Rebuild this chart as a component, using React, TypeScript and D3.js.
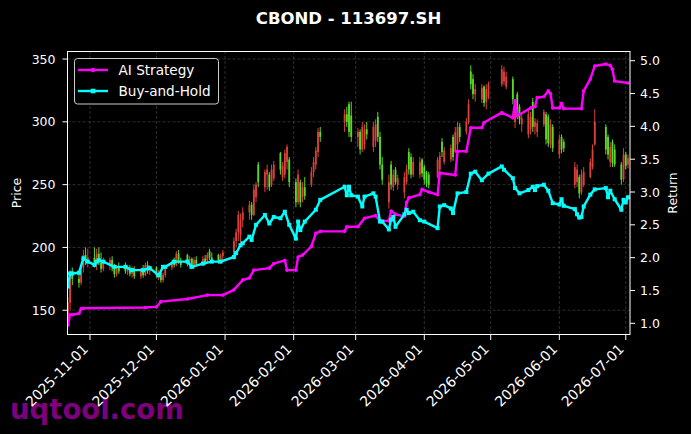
import * as d3 from 'd3'

const W = 691
const H = 434
const plot = { left: 67.5, top: 51, right: 630, bottom: 335 }
const FONT = '"DejaVu Sans", Verdana, sans-serif'

const title = 'CBOND - 113697.SH'

// date, open, high, low, close
const candles: [string, number, number, number, number][] = [
  ['2025-10-22', 142, 160, 138, 156], ['2025-10-23', 156, 182, 150, 178], ['2025-10-24', 178, 184, 170, 175],
  ['2025-10-27', 175, 180, 168, 172], ['2025-10-28', 172, 186, 170, 184], ['2025-10-29', 184, 198, 180, 194],
  ['2025-10-30', 194, 200, 186, 190], ['2025-10-31', 190, 199, 184, 192],
  ['2025-11-03', 192, 200, 184, 186], ['2025-11-04', 186, 199, 182, 195], ['2025-11-05', 195, 200, 186, 188],
  ['2025-11-06', 188, 196, 180, 183], ['2025-11-07', 183, 192, 181, 189],
  ['2025-11-10', 186, 192, 182, 190], ['2025-11-11', 190, 193, 181, 184], ['2025-11-12', 184, 187, 176, 179],
  ['2025-11-13', 179, 186, 177, 184], ['2025-11-14', 184, 188, 179, 181],
  ['2025-11-17', 185, 188, 179, 181], ['2025-11-18', 181, 186, 178, 184], ['2025-11-19', 184, 186, 177, 179],
  ['2025-11-20', 179, 185, 176, 183], ['2025-11-21', 183, 185, 175, 177],
  ['2025-11-24', 177, 184, 175, 182], ['2025-11-25', 182, 186, 176, 178], ['2025-11-26', 178, 188, 177, 186],
  ['2025-11-27', 186, 189, 179, 181], ['2025-11-28', 181, 186, 178, 184],
  ['2025-12-01', 184, 185, 176, 178], ['2025-12-02', 178, 182, 174, 180], ['2025-12-03', 180, 182, 172, 174],
  ['2025-12-04', 174, 180, 172, 178], ['2025-12-05', 178, 186, 176, 184],
  ['2025-12-08', 184, 190, 182, 188], ['2025-12-09', 188, 192, 184, 186], ['2025-12-10', 186, 197, 185, 195],
  ['2025-12-11', 195, 198, 187, 189], ['2025-12-12', 189, 192, 184, 186],
  ['2025-12-15', 194, 195, 185, 187], ['2025-12-16', 187, 193, 183, 191], ['2025-12-17', 191, 192, 183, 185],
  ['2025-12-18', 185, 192, 183, 190], ['2025-12-19', 190, 193, 185, 187],
  ['2025-12-22', 187, 193, 185, 191], ['2025-12-23', 191, 194, 186, 188], ['2025-12-24', 188, 196, 187, 194],
  ['2025-12-25', 197, 199, 190, 192], ['2025-12-26', 192, 196, 189, 190],
  ['2025-12-29', 194, 195, 187, 189], ['2025-12-30', 189, 195, 187, 193], ['2025-12-31', 193, 198, 188, 196],
  ['2026-01-05', 192, 208, 190, 205], ['2026-01-06', 205, 215, 200, 212], ['2026-01-07', 212, 229, 205, 226],
  ['2026-01-08', 210, 227, 202, 222], ['2026-01-09', 222, 232, 216, 228],
  ['2026-01-12', 228, 237, 222, 234], ['2026-01-13', 234, 236, 222, 226], ['2026-01-14', 226, 250, 225, 246],
  ['2026-01-15', 240, 252, 236, 250], ['2026-01-16', 266, 268, 248, 252],
  ['2026-01-19', 248, 262, 244, 260], ['2026-01-20', 258, 266, 246, 262], ['2026-01-21', 258, 260, 245, 248],
  ['2026-01-22', 250, 266, 248, 262], ['2026-01-23', 255, 269, 253, 266],
  ['2026-01-26', 275, 276, 258, 262], ['2026-01-27', 256, 268, 253, 265], ['2026-01-28', 258, 278, 255, 275],
  ['2026-01-29', 268, 282, 262, 280], ['2026-01-30', 270, 272, 248, 252],
  ['2026-02-02', 252, 255, 232, 236], ['2026-02-03', 236, 262, 234, 258], ['2026-02-04', 252, 254, 232, 236],
  ['2026-02-05', 240, 252, 236, 248], ['2026-02-06', 248, 256, 238, 241],
  ['2026-02-09', 250, 264, 248, 260], ['2026-02-10', 260, 272, 256, 268], ['2026-02-11', 266, 280, 262, 277],
  ['2026-02-12', 276, 295, 272, 292], ['2026-02-13', 292, 296, 284, 288],
  ['2026-02-24', 300, 310, 292, 306], ['2026-02-25', 306, 312, 296, 300], ['2026-02-26', 314, 316, 288, 292],
  ['2026-02-27', 305, 316, 284, 288],
  ['2026-03-02', 288, 295, 280, 292], ['2026-03-03', 292, 294, 274, 278], ['2026-03-04', 278, 300, 276, 296],
  ['2026-03-05', 282, 298, 278, 294], ['2026-03-06', 294, 300, 286, 290],
  ['2026-03-09', 280, 300, 276, 296], ['2026-03-10', 285, 302, 280, 298], ['2026-03-11', 304, 308, 284, 288],
  ['2026-03-12', 288, 292, 262, 266], ['2026-03-13', 266, 272, 250, 254],
  ['2026-03-16', 236, 258, 231, 252], ['2026-03-17', 266, 269, 246, 250], ['2026-03-18', 248, 262, 245, 258],
  ['2026-03-19', 262, 264, 250, 252], ['2026-03-20', 250, 258, 246, 255],
  ['2026-03-23', 244, 260, 239, 256], ['2026-03-24', 252, 266, 250, 262], ['2026-03-25', 276, 279, 258, 262],
  ['2026-03-26', 272, 275, 255, 258], ['2026-03-27', 258, 272, 256, 268],
  ['2026-03-30', 258, 272, 255, 268], ['2026-03-31', 270, 271, 256, 259], ['2026-04-01', 264, 266, 250, 254],
  ['2026-04-02', 260, 261, 248, 251], ['2026-04-03', 258, 260, 247, 250],
  ['2026-04-07', 256, 272, 255, 270], ['2026-04-08', 262, 276, 258, 273], ['2026-04-09', 284, 287, 272, 276],
  ['2026-04-10', 268, 280, 266, 277],
  ['2026-04-13', 270, 282, 268, 279], ['2026-04-14', 288, 290, 269, 272], ['2026-04-15', 276, 296, 275, 292],
  ['2026-04-16', 282, 300, 276, 296], ['2026-04-17', 296, 299, 284, 288],
  ['2026-04-20', 292, 303, 290, 300], ['2026-04-21', 300, 318, 298, 314], ['2026-04-22', 340, 345, 326, 330],
  ['2026-04-23', 334, 338, 318, 322], ['2026-04-24', 322, 330, 316, 326],
  ['2026-04-27', 318, 330, 315, 327], ['2026-04-28', 328, 329, 312, 315], ['2026-04-29', 316, 330, 310, 326],
  ['2026-04-30', 320, 332, 318, 330],
  ['2026-05-06', 330, 345, 328, 342], ['2026-05-07', 332, 344, 329, 340], ['2026-05-08', 328, 340, 326, 336],
  ['2026-05-11', 334, 336, 314, 318], ['2026-05-12', 300, 316, 295, 312], ['2026-05-13', 322, 324, 302, 306],
  ['2026-05-14', 312, 314, 298, 302], ['2026-05-15', 298, 306, 292, 303],
  ['2026-05-18', 290, 310, 287, 306], ['2026-05-19', 294, 308, 290, 304], ['2026-05-20', 316, 319, 292, 296],
  ['2026-05-21', 296, 303, 290, 300], ['2026-05-22', 292, 302, 288, 299],
  ['2026-05-25', 298, 310, 296, 308], ['2026-05-26', 306, 308, 282, 286], ['2026-05-27', 304, 306, 280, 283],
  ['2026-05-28', 282, 302, 279, 298], ['2026-05-29', 296, 298, 276, 279],
  ['2026-06-01', 274, 290, 271, 286], ['2026-06-02', 288, 290, 275, 278], ['2026-06-03', 284, 286, 276, 279],
  ['2026-06-08', 250, 268, 247, 264], ['2026-06-09', 252, 266, 248, 262], ['2026-06-10', 256, 258, 239, 243],
  ['2026-06-11', 244, 262, 242, 258], ['2026-06-12', 250, 264, 248, 260],
  ['2026-06-15', 256, 271, 255, 268], ['2026-06-16', 264, 282, 262, 278], ['2026-06-17', 282, 310, 281, 300],
  ['2026-06-22', 296, 298, 274, 278], ['2026-06-23', 288, 290, 270, 274], ['2026-06-24', 268, 284, 264, 280],
  ['2026-06-25', 284, 286, 264, 267], ['2026-06-26', 278, 282, 264, 266],
  ['2026-06-29', 266, 268, 250, 254], ['2026-06-30', 254, 279, 252, 274], ['2026-07-01', 274, 276, 262, 265],
  ['2026-07-02', 266, 274, 263, 271],
]

const aiStrategy: [string, number][] = [
  ['2025-10-22', 0.97], ['2025-10-23', 1.13], ['2025-10-24', 1.13], ['2025-10-27', 1.15], ['2025-10-28', 1.22],
  ['2025-10-29', 1.23], ['2025-11-26', 1.24], ['2025-12-01', 1.25], ['2025-12-03', 1.33], ['2025-12-15', 1.37],
  ['2025-12-24', 1.43], ['2025-12-31', 1.43], ['2026-01-05', 1.51], ['2026-01-09', 1.66], ['2026-01-12', 1.69],
  ['2026-01-14', 1.81], ['2026-01-21', 1.84], ['2026-01-23', 1.91], ['2026-01-28', 1.96], ['2026-01-29', 1.81],
  ['2026-02-02', 1.81], ['2026-02-03', 2.01], ['2026-02-05', 2.04], ['2026-02-09', 2.17], ['2026-02-11', 2.37],
  ['2026-02-13', 2.40], ['2026-02-24', 2.40], ['2026-02-25', 2.47], ['2026-03-02', 2.47], ['2026-03-05', 2.60],
  ['2026-03-10', 2.64], ['2026-03-12', 2.56], ['2026-03-16', 2.56], ['2026-03-17', 2.71], ['2026-03-19', 2.66],
  ['2026-03-23', 2.63], ['2026-03-24', 2.84], ['2026-03-25', 2.91], ['2026-03-30', 2.96], ['2026-03-31', 3.04],
  ['2026-04-03', 3.00], ['2026-04-07', 2.96], ['2026-04-08', 3.29], ['2026-04-15', 3.26], ['2026-04-16', 3.62],
  ['2026-04-20', 3.62], ['2026-04-22', 3.98], ['2026-04-27', 3.98], ['2026-04-28', 4.06], ['2026-05-06', 4.21],
  ['2026-05-11', 4.13], ['2026-05-12', 4.39], ['2026-05-13', 4.16], ['2026-05-19', 4.28], ['2026-05-21', 4.30],
  ['2026-05-22', 4.44], ['2026-05-25', 4.45], ['2026-05-27', 4.54], ['2026-05-28', 4.50], ['2026-05-29', 4.28],
  ['2026-06-01', 4.28], ['2026-06-02', 4.35], ['2026-06-03', 4.27], ['2026-06-11', 4.27], ['2026-06-12', 4.54],
  ['2026-06-15', 4.72], ['2026-06-17', 4.92], ['2026-06-22', 4.95], ['2026-06-24', 4.93], ['2026-06-25', 4.87],
  ['2026-06-26', 4.69], ['2026-07-02', 4.66],
]

const buyHold: [string, number][] = [
  ['2025-10-22', 1.56], ['2025-10-23', 1.76], ['2025-10-24', 1.76], ['2025-10-27', 1.77], ['2025-10-29', 1.99],
  ['2025-10-31', 1.94], ['2025-11-03', 1.89], ['2025-11-04', 1.94], ['2025-11-05', 1.96], ['2025-11-07', 1.94],
  ['2025-11-12', 1.86], ['2025-11-17', 1.86], ['2025-11-20', 1.81], ['2025-11-25', 1.81], ['2025-11-28', 1.84],
  ['2025-12-02', 1.73], ['2025-12-04', 1.86], ['2025-12-05', 1.86], ['2025-12-09', 1.94], ['2025-12-15', 1.94],
  ['2025-12-17', 1.86], ['2025-12-22', 1.91], ['2025-12-26', 1.94], ['2025-12-30', 1.94], ['2026-01-05', 2.01],
  ['2026-01-06', 2.07], ['2026-01-08', 2.19], ['2026-01-09', 2.22], ['2026-01-12', 2.32], ['2026-01-13', 2.27],
  ['2026-01-15', 2.50], ['2026-01-19', 2.65], ['2026-01-21', 2.52], ['2026-01-23', 2.62], ['2026-01-26', 2.60],
  ['2026-01-28', 2.70], ['2026-01-30', 2.50], ['2026-02-02', 2.29], ['2026-02-03', 2.55], ['2026-02-04', 2.42],
  ['2026-02-06', 2.55], ['2026-02-11', 2.73], ['2026-02-13', 2.88], ['2026-02-24', 3.08], ['2026-02-25', 2.95],
  ['2026-02-26', 3.08], ['2026-02-27', 2.95], ['2026-03-02', 2.93], ['2026-03-04', 2.78], ['2026-03-05', 2.93],
  ['2026-03-09', 2.98], ['2026-03-10', 2.93], ['2026-03-12', 2.55], ['2026-03-13', 2.55], ['2026-03-16', 2.43],
  ['2026-03-17', 2.58], ['2026-03-18', 2.62], ['2026-03-19', 2.47], ['2026-03-23', 2.66], ['2026-03-24', 2.73],
  ['2026-03-25', 2.68], ['2026-03-27', 2.70], ['2026-03-30', 2.57], ['2026-04-01', 2.55], ['2026-04-07', 2.45],
  ['2026-04-08', 2.78], ['2026-04-10', 2.80], ['2026-04-13', 2.75], ['2026-04-14', 2.68], ['2026-04-16', 2.98],
  ['2026-04-20', 3.00], ['2026-04-22', 3.28], ['2026-04-24', 3.31], ['2026-04-27', 3.18], ['2026-04-30', 3.28],
  ['2026-05-06', 3.39], ['2026-05-07', 3.34], ['2026-05-11', 3.21], ['2026-05-12', 3.06], ['2026-05-14', 2.98],
  ['2026-05-18', 3.03], ['2026-05-20', 3.08], ['2026-05-21', 3.03], ['2026-05-22', 3.09], ['2026-05-25', 3.11],
  ['2026-05-27', 3.02], ['2026-05-29', 2.83], ['2026-06-01', 2.81], ['2026-06-02', 2.89], ['2026-06-03', 2.79],
  ['2026-06-08', 2.74], ['2026-06-09', 2.66], ['2026-06-10', 2.61], ['2026-06-11', 2.62], ['2026-06-12', 2.78],
  ['2026-06-15', 2.96], ['2026-06-17', 3.04], ['2026-06-22', 3.06], ['2026-06-23', 2.92], ['2026-06-24', 3.02],
  ['2026-06-26', 2.89], ['2026-06-29', 2.73], ['2026-06-30', 2.88], ['2026-07-01', 2.84], ['2026-07-02', 2.92],
]

const dateTicks = ['2025-11-01', '2025-12-01', '2026-01-01', '2026-02-01', '2026-03-01', '2026-04-01', '2026-05-01', '2026-06-01', '2026-07-01']
const priceTicks = [150, 200, 250, 300, 350]
const returnTicks = [1.0, 1.5, 2.0, 2.5, 3.0, 3.5, 4.0, 4.5, 5.0]

const parse = d3.utcParse('%Y-%m-%d')

export default function App() {
  const x = d3.scaleUtc()
    .domain([new Date(Date.UTC(2025, 9, 21, 20)), new Date(Date.UTC(2026, 6, 2, 22))])
    .range([plot.left, plot.right])
  const yPrice = d3.scaleLinear().domain([130.3, 356.4]).range([plot.bottom, plot.top])
  const yRet = d3.scaleLinear().domain([0.822, 5.148]).range([plot.bottom, plot.top])

  const line = d3.line<[string, number]>()
    .x((d) => x(parse(d[0])!))
    .y((d) => yRet(d[1]))

  const bodyW = 1.8

  return (
    <svg width={W} height={H} style={{ position: 'absolute', left: 0, top: 0, background: '#000' }} fontFamily={FONT}>
      <rect width={W} height={H} fill="#000" />
      <defs>
        <clipPath id="plotClip">
          <rect x={plot.left} y={plot.top} width={plot.right - plot.left} height={plot.bottom - plot.top} />
        </clipPath>
      </defs>

      <text x={W / 2 + 3} y={24} textAnchor="middle" fill="#fff" fontSize={16.5} fontWeight="bold">{title}</text>

      {/* grid */}
      <g stroke="#8a8a8a" strokeOpacity={0.55} strokeWidth={0.6} strokeDasharray="3,2">
        {dateTicks.map((t) => (
          <line key={t} x1={x(parse(t)!)} x2={x(parse(t)!)} y1={plot.top} y2={plot.bottom} />
        ))}
        {priceTicks.map((t) => (
          <line key={t} x1={plot.left} x2={plot.right} y1={yPrice(t)} y2={yPrice(t)} />
        ))}
      </g>

      <g clipPath="url(#plotClip)">
        {candles.map(([d, o, h, l, c]) => {
          const cx = x(parse(d)!)
          const up = c >= o
          const col = up ? '#ff4d45' : '#6cff30'
          return (
            <g key={d} opacity={0.85}>
              <line x1={cx} x2={cx} y1={yPrice(h)} y2={yPrice(l)} stroke={col} strokeWidth={1} />
              <rect x={cx - bodyW / 2} y={yPrice(Math.max(o, c))} width={bodyW}
                height={Math.max(1, Math.abs(yPrice(o) - yPrice(c)))} fill={col} />
            </g>
          )
        })}

        <path d={line(aiStrategy) ?? ''} fill="none" stroke="#ff00ff" strokeWidth={2.4} strokeLinejoin="round" />
        {aiStrategy.map((d) => (
          <circle key={d[0]} cx={x(parse(d[0])!)} cy={yRet(d[1])} r={1.8} fill="#ff00ff" />
        ))}
        <path d={line(buyHold) ?? ''} fill="none" stroke="#00ffff" strokeWidth={2.4} strokeLinejoin="round" />
        {buyHold.map((d) => (
          <rect key={d[0]} x={x(parse(d[0])!) - 2} y={yRet(d[1]) - 2} width={4} height={4} fill="#00ffff" />
        ))}
      </g>

      {/* frame */}
      <rect x={plot.left} y={plot.top + 0.5} width={plot.right - plot.left} height={plot.bottom - plot.top - 1}
        fill="none" stroke="#fff" strokeWidth={1} />

      {/* left axis */}
      <g fill="#fff" fontSize={12.5}>
        {priceTicks.map((t) => (
          <g key={t}>
            <line x1={plot.left - 5} x2={plot.left} y1={yPrice(t)} y2={yPrice(t)} stroke="#fff" />
            <text x={plot.left - 12} y={yPrice(t)} dy="0.36em" textAnchor="end">{t}</text>
          </g>
        ))}
        <text transform={`translate(21,${(plot.top + plot.bottom) / 2}) rotate(-90)`} textAnchor="middle" fontSize={12.5}>Price</text>
      </g>

      {/* right axis */}
      <g fill="#fff" fontSize={12.5}>
        {returnTicks.map((t) => (
          <g key={t}>
            <line x1={plot.right} x2={plot.right + 5} y1={yRet(t)} y2={yRet(t)} stroke="#fff" />
            <text x={plot.right + 10} y={yRet(t)} dy="0.36em">{t.toFixed(1)}</text>
          </g>
        ))}
        <text transform={`translate(677,${(plot.top + plot.bottom) / 2}) rotate(-90)`} textAnchor="middle" fontSize={12.5}>Return</text>
      </g>

      {/* watermark */}
      <text x={10} y={419} fill="#a000a0" fillOpacity={0.8} fontSize={27.5} fontWeight="bold">uqtool.com</text>

      {/* bottom axis */}
      <g fill="#fff" fontSize={14}>
        {dateTicks.map((t) => {
          const tx = x(parse(t)!)
          return (
            <g key={t}>
              <line x1={tx} x2={tx} y1={plot.bottom} y2={plot.bottom + 5} stroke="#fff" />
              <text transform={`translate(${tx - 1},${plot.bottom + 15}) rotate(-45)`} textAnchor="end">{t}</text>
            </g>
          )
        })}
      </g>

      {/* legend */}
      <g>
        <rect x={74.5} y={58.5} width={144} height={45.5} rx={3} fill="#000" fillOpacity={0.8} stroke="#cccccc" strokeWidth={1} />
        <line x1={78} x2={108} y1={70} y2={70} stroke="#ff00ff" strokeWidth={2.4} />
        <circle cx={93} cy={70} r={2.2} fill="#ff00ff" />
        <text x={118.5} y={70} dy="0.36em" fill="#fff" fontSize={13.6}>AI Strategy</text>
        <line x1={78} x2={108} y1={91} y2={91} stroke="#00ffff" strokeWidth={2.4} />
        <rect x={90.7} y={88.7} width={4.6} height={4.6} fill="#00ffff" />
        <text x={118.5} y={91} dy="0.36em" fill="#fff" fontSize={13.6}>Buy-and-Hold</text>
      </g>
    </svg>
  )
}
